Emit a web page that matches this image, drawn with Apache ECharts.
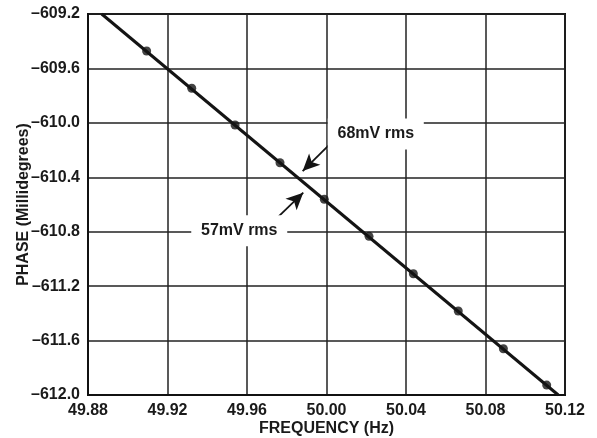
<!DOCTYPE html>
<html>
<head>
<meta charset="utf-8">
<script src="https://cdn.jsdelivr.net/npm/echarts@6/dist/echarts.min.js"></script>
<style>
html,body{margin:0;padding:0;background:#fff;}
#main{width:597px;height:438px;}
</style>
</head>
<body>
<div id="main"></div>
<script>
// measured points
var freq = [49.9095, 49.9322, 49.954, 49.9766, 49.9989, 50.0214, 50.0437, 50.0663, 50.089, 50.1108];
var phase = [-609.472, -609.746, -610.016, -610.293, -610.562, -610.834, -611.109, -611.383, -611.66, -611.927];
// straight line through the points, read where it meets the frame
var fitFreq = [49.8869, 50.1166];
var fitPhase = [-609.2, -612.0];
// annotations
var noteText = ['68mV rms', '57mV rms'];
var notePos = [[50.0248, -610.082], [49.9561, -610.793]];
var arrowFrom = [[50.0026, -610.143], [49.9736, -610.721]];
var arrowTo = [[49.988, -610.354], [49.9883, -610.513]];

window.onload = function () {
	var myChart = echarts.init(document.getElementById('main'));
	var font = 'Liberation Sans, Arial, Helvetica, sans-serif';

	var pts = freq.map(function (f, i) { return [f, phase[i]]; });
	var fit = fitFreq.map(function (f, i) { return [f, fitPhase[i]]; });

	var option = {
		animation: false,
		grid: {
			left: 88, top: 14, right: 32, bottom: 43,
			outerBoundsMode: 'none',
			containLabel: false,
			show: true, borderColor: '#111', borderWidth: 2
		},
		xAxis: {
			type: 'value',
			min: 49.88, max: 50.12, interval: 0.04,
			name: 'FREQUENCY (Hz)',
			nameLocation: 'middle',
			nameGap: 26,
			nameMoveOverlap: false,
			nameTextStyle: { fontFamily: font, fontWeight: 'bold', fontSize: 16, color: '#1a1a1a' },
			axisLine: { lineStyle: { color: '#111', width: 2 } },
			axisTick: { show: false },
			axisLabel: {
				margin: 8,
				fontFamily: font, fontWeight: 'bold', fontSize: 16, color: '#1a1a1a',
				formatter: function (v) { return v.toFixed(2); }
			},
			splitLine: { lineStyle: { color: '#222', width: 1.5 } }
		},
		yAxis: {
			type: 'value',
			min: -612.0, max: -609.2, interval: 0.4,
			name: 'PHASE (Millidegrees)',
			nameLocation: 'middle',
			nameGap: 56,
			nameMoveOverlap: false,
			nameTextStyle: { fontFamily: font, fontWeight: 'bold', fontSize: 16, color: '#1a1a1a' },
			axisLine: { show: true, lineStyle: { color: '#111', width: 2 } },
			axisTick: { show: false },
			axisLabel: {
				margin: 8,
				fontFamily: font, fontWeight: 'bold', fontSize: 16, color: '#1a1a1a',
				formatter: function (v) { return v.toFixed(1).replace('-', '\u2013'); }
			},
			splitLine: { lineStyle: { color: '#222', width: 1.5 } }
		},
		series: [
			{
				name: 'fit',
				type: 'line',
				data: fit,
				symbol: 'none',
				lineStyle: { color: '#141414', width: 3 },
				z: 3,
				markPoint: {
					symbol: 'rect',
					symbolSize: [96, 31],
					itemStyle: { color: '#fff' },
					label: {
						show: true, position: 'inside',
						fontFamily: font, fontWeight: 'bold', fontSize: 16, color: '#1a1a1a',
						formatter: function (p) { return p.name; }
					},
					data: noteText.map(function (t, i) {
						return { name: t, coord: notePos[i] };
					})
				},
				markLine: {
					silent: true,
					symbol: ['none', 'arrow'],
					symbolSize: [12, 17],
					label: { show: false },
					lineStyle: { color: '#141414', width: 1.8, type: 'solid' },
					data: arrowFrom.map(function (a, i) {
						return [{ coord: a }, { coord: arrowTo[i] }];
					})
				}
			},
			{
				name: 'points',
				type: 'scatter',
				data: pts,
				symbol: 'circle',
				symbolSize: 9,
				itemStyle: { color: '#141414' },
				z: 4
			}
		]
	};
	myChart.setOption(option);
};
</script>
</body>
</html>
